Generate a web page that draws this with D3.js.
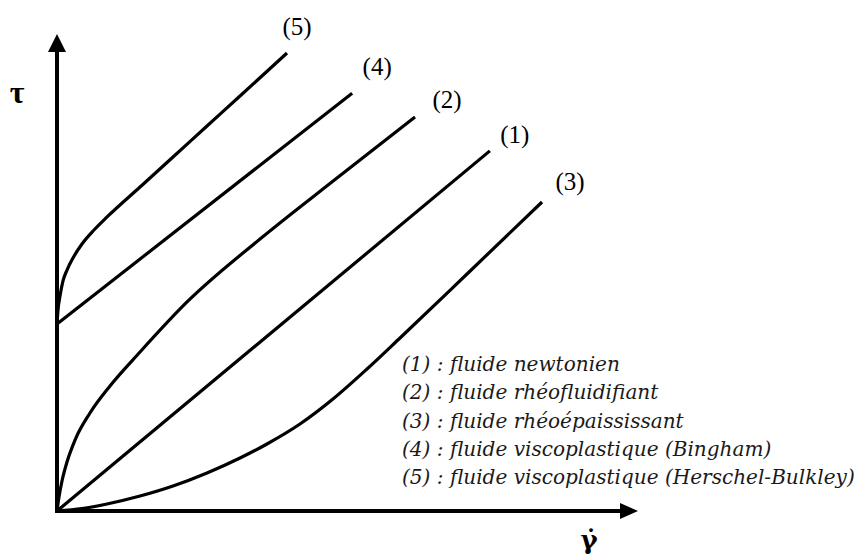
<!DOCTYPE html>
<html><head><meta charset="utf-8">
<script src="https://cdn.jsdelivr.net/npm/d3@7"></script>
<style>html,body{margin:0;padding:0;background:#fff;}svg{display:block;}</style>
</head><body>
<svg id="c" width="859" height="560"></svg>
<script>
// Series (shear rate, shear stress) in arbitrary units 0-100
const curve1 = [[0,0],[74.5,75.5]];
const curve2 = [[0,0],[0.34,2.94],[0.86,6.29],[1.72,10.27],[3.10,14.88],[5.68,20.55],[9.12,26.21],[14.29,33.33],[22.38,43.82],[34.94,57.02],[48.19,69.81],[61.62,82.60]];
const curve3 = [[0,0],[4.30,0.52],[8.61,1.47],[14.29,3.14],[19.97,5.24],[25.82,7.97],[31.50,11.11],[36.14,14.05],[41.82,18.24],[47.50,23.48],[53.36,29.77],[59.04,36.27],[70.57,49.69],[83.48,64.78]];
const curve4 = [[0,39.2],[50.8,87.6]];
const curve5 = [[0,39.20],[0.17,42.14],[0.52,45.07],[1.03,48.22],[1.72,50.52],[2.75,53.04],[4.30,55.97],[6.37,58.91],[8.61,61.64],[14.29,67.92],[19.97,74.21],[25.82,80.71],[31.50,87.00],[39.59,96.02]];
const curveLabels = ["(1)","(2)","(3)","(4)","(5)"];
const legendLines = [
  "(1) : fluide newtonien",
  "(2) : fluide rhéofluidifiant",
  "(3) : fluide rhéoépaississant",
  "(4) : fluide viscoplastique (Bingham)",
  "(5) : fluide viscoplastique (Herschel-Bulkley)"
];
const axisLabelY = "τ";
const axisLabelX = "γ̇";

const svg = d3.select("#c");
const x = d3.scaleLinear().domain([0,100]).range([57,638]);
const y = d3.scaleLinear().domain([0,100]).range([511,34]);

// axes
svg.append("line").attr("x1",x(0)).attr("y1",y(0)+2).attr("x2",x(0)).attr("y2",y(100)+16)
  .attr("stroke","#000").attr("stroke-width",4);
svg.append("path").attr("d",`M${x(0)},${y(100)} L${x(0)-9},${y(100)+18} L${x(0)+9},${y(100)+18} Z`).attr("fill","#000");
svg.append("line").attr("x1",x(0)-2).attr("y1",y(0)).attr("x2",x(100)-16).attr("y2",y(0))
  .attr("stroke","#000").attr("stroke-width",4);
svg.append("path").attr("d",`M${x(100)},${y(0)} L${x(100)-18},${y(0)-8} L${x(100)-18},${y(0)+8} Z`).attr("fill","#000");

const line = d3.line().x(d=>x(d[0])).y(d=>y(d[1])).curve(d3.curveMonotoneX);
const series = [curve1,curve2,curve3,curve4,curve5];
series.forEach(s=>{
  svg.append("path").attr("d",line(s)).attr("fill","none").attr("stroke","#000")
    .attr("stroke-width",3.2).attr("stroke-linecap","butt");
});

// curve labels near ends
const labelOffsets = [[25,-8],[32,-9],[28,-12],[25,-18],[10,-18]];
series.forEach((s,i)=>{
  const e = s[s.length-1];
  svg.append("text").attr("x",x(e[0])+labelOffsets[i][0]).attr("y",y(e[1])+labelOffsets[i][1])
    .attr("text-anchor","middle").attr("font-family","Liberation Serif").attr("font-size",25)
    .attr("fill","#000").text(curveLabels[i]);
});

// axis labels
svg.append("text").attr("x",17).attr("y",103).attr("text-anchor","middle")
  .attr("font-family","Liberation Serif").attr("font-weight","bold").attr("font-size",32).text(axisLabelY);
svg.append("text").attr("x",589).attr("y",549).attr("text-anchor","middle")
  .attr("font-family","DejaVu Serif").attr("font-weight","bold").attr("font-size",26).text(axisLabelX);

// legend
const lg = svg.append("g").attr("font-family","DejaVu Serif").attr("font-style","italic").attr("fill","#1a1a1a");
const texts = lg.selectAll("text").data(legendLines).join("text")
  .attr("x",402).attr("y",(d,i)=>371+i*28.3).attr("font-size",18).text(d=>d);
const w = texts.nodes()[4].getComputedTextLength();
texts.attr("font-size",18*453/w);
</script>
</body></html>
